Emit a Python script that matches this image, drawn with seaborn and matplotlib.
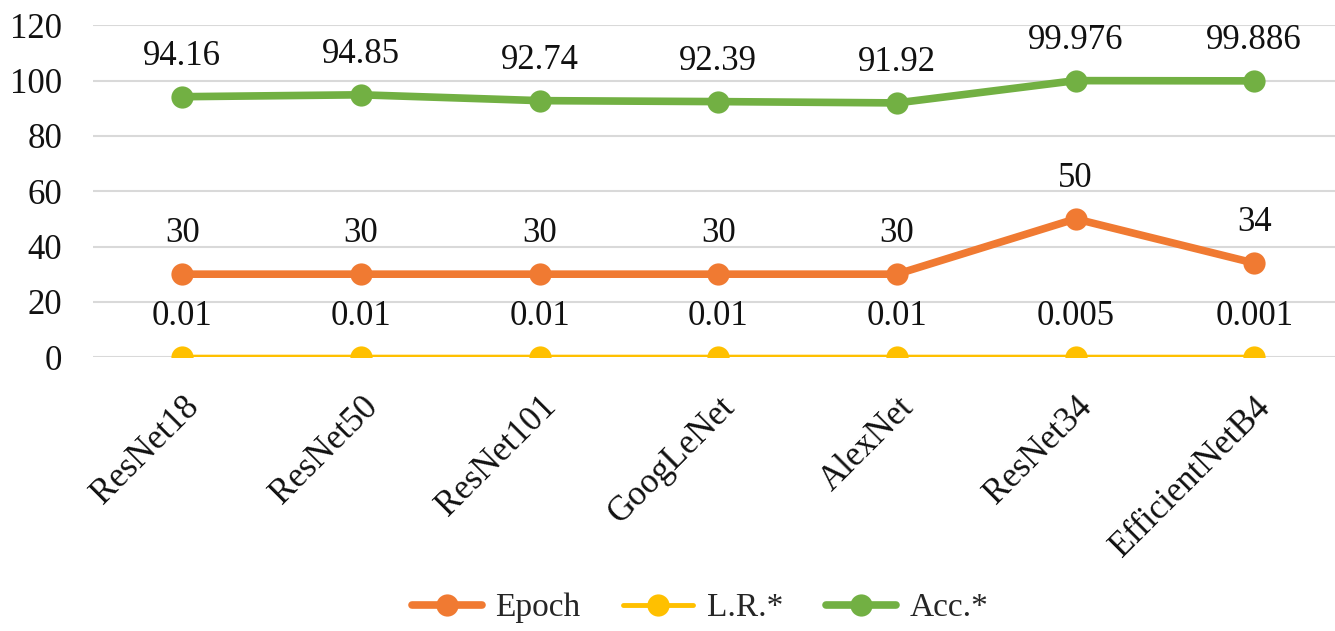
import matplotlib
matplotlib.use("Agg")
import matplotlib.pyplot as plt
import seaborn as sns
import pandas as pd

models = ["ResNet18", "ResNet50", "ResNet101", "GoogLeNet", "AlexNet", "ResNet34", "EfficientNetB4"]
epoch = [30, 30, 30, 30, 30, 50, 34]
lr = [0.01, 0.01, 0.01, 0.01, 0.01, 0.005, 0.001]
acc = [94.16, 94.85, 92.74, 92.39, 91.92, 99.976, 99.886]
epoch_labels = ["30", "30", "30", "30", "30", "50", "34"]
lr_labels = ["0.01", "0.01", "0.01", "0.01", "0.01", "0.005", "0.001"]
acc_labels = ["94.16", "94.85", "92.74", "92.39", "91.92", "99.976", "99.886"]
series_names = ["Epoch", "L.R.*", "Acc.*"]
colors = ["#F07A32", "#FFC000", "#72B043"]
yticks = [0, 20, 40, 60, 80, 100, 120]

sns.set_theme(style="white")
plt.rcParams["font.family"] = ["Liberation Serif", "DejaVu Serif"]

fig = plt.figure(figsize=(13.35, 6.31), dpi=100)
ax = fig.add_axes([0.0697, 0.434, 0.93, 0.526])

rows = []
for name, vals in zip(series_names, [epoch, lr, acc]):
    for i, (m, v) in enumerate(zip(models, vals)):
        rows.append({"idx": i, "model": m, "value": v, "series": name})
df = pd.DataFrame(rows)

widths = {"Epoch": 5.5, "L.R.*": 3.5, "Acc.*": 5.5}
for name, col in zip(series_names, colors):
    sub = df[df["series"] == name]
    sns.lineplot(data=sub, x="idx", y="value", ax=ax, color=col, marker="o",
                 markersize=16, markeredgewidth=0, linewidth=widths[name],
                 label=name, sort=False, zorder=3)

FS = 25
for vals, labs in [(epoch, epoch_labels), (lr, lr_labels), (acc, acc_labels)]:
    for i, (v, t) in enumerate(zip(vals, labs)):
        ax.annotate(t, (i, v), xytext=(0, 29), textcoords="offset points",
                    ha="center", va="center", fontsize=FS, color="#111111")

ax.set_ylim(0, 120)
ax.set_xlim(-0.5, 6.45)
ax.set_yticks(yticks)
ax.set_yticklabels([str(t) for t in yticks], fontsize=FS)
ax.set_xticks(range(len(models)))
ax.set_xticklabels(models, fontsize=FS, rotation=45, ha="right", rotation_mode="anchor")
ax.tick_params(axis="x", length=0, pad=24)
ax.tick_params(axis="y", length=0, pad=22)
ax.yaxis.grid(True, color="#D9D9D9", linewidth=1.5)
ax.xaxis.grid(False)
for s in ax.spines.values():
    s.set_visible(False)
ax.set_xlabel("")
ax.set_ylabel("")
for lab in ax.get_yticklabels():
    lab.set_horizontalalignment("right")
for lab in ax.get_xticklabels():
    lab.set_color("#111111")
for lab in ax.get_yticklabels():
    lab.set_color("#111111")

ax.legend(loc="center", bbox_to_anchor=(0.489, -0.756), ncol=3, frameon=False,
          fontsize=24, handlelength=2.1, columnspacing=1.3, handletextpad=0.4)

fig.savefig("out.png", dpi=100)
